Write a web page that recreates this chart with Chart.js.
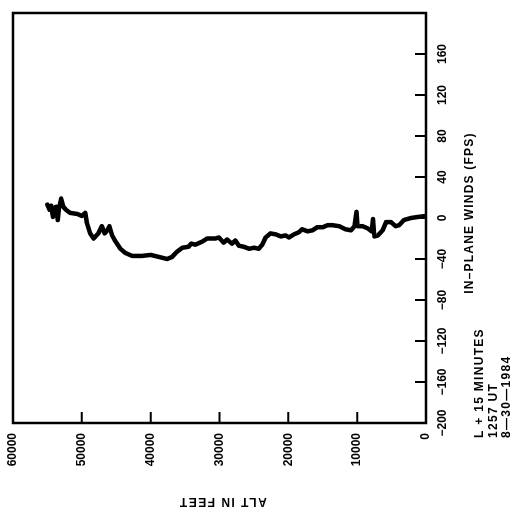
<!DOCTYPE html>
<html>
<head>
<meta charset="utf-8">
<script src="https://cdn.jsdelivr.net/npm/chart.js@4.4.0/dist/chart.umd.min.js"></script>
<style>
  html, body { margin: 0; padding: 0; background: #fff; overflow: hidden; }
  /* the plot is drawn upright (winds across, altitude up) and the whole canvas is turned a quarter left */
  #wrap { position: absolute; left: 0; top: 0; width: 520px; height: 522px;
          transform-origin: 0 0; transform: translateY(520px) rotate(-90deg); }
</style>
</head>
<body>
<div id="wrap"><canvas id="windChart" width="520" height="522"></canvas></div>
<script>
  var altitudes = [55000, 54700, 54450, 54200, 54000, 53700, 53500, 53300, 53000, 52700,
                   52300, 51700, 50700, 50000, 49500, 49300, 48800, 48300, 47600, 47100,
                   46700, 46400, 46000, 45600, 45100, 44400, 43700, 42700, 41800, 41300,
                   40000, 38800, 37600, 36900, 36200, 35400, 34500, 34100, 33500, 32500,
                   31800, 30600, 30100, 29400, 28900, 28200, 27700, 27200, 26500, 25700,
                   25000, 24300, 23800, 23300, 22600, 21800, 21100, 20400, 19900, 19200,
                   18500, 18000, 17200, 16500, 15800, 15000, 14300, 13600, 12600, 11700,
                   10900, 10400, 10100, 9950, 9200, 8500, 7900, 7700, 7500, 7000,
                   6300, 5800, 5100, 4400, 3900, 3200, 2200, 1200, 0];
  var winds = [13, 8, 12, 1, 10, 11, -2, 10, 19, 11,
               8, 5, 4, 2, 5, -4, -15, -20, -15, -8,
               -15, -13, -8, -17, -23, -30, -34, -37, -37, -37,
               -36, -38, -40, -38, -33, -29, -28, -25, -26, -23,
               -20, -20, -19, -24, -21, -25, -22, -27, -28, -30,
               -29, -30, -26, -19, -15, -16, -18, -17, -19, -16,
               -14, -11, -13, -12, -9, -9, -7, -7, -8, -11,
               -12, -8, 6, -8, -8, -10, -13, -1, -18, -17,
               -12, -4, -4, -8, -7, -2, 0, 1, 2];
  var windTicks = [-200, -160, -120, -80, -40, 0, 40, 80, 120, 160];
  var altTicks = [0, 10000, 20000, 30000, 40000, 50000, 60000];
  var windTitle = 'IN\u2013PLANE WINDS (FPS)';
  var altTitle = 'ALT IN FEET';
  var noteLines = ['L + 15 MINUTES', '1257 UT', '8\u201430\u20141984'];

  var FONT = '"Liberation Sans", Arial, sans-serif';

  function noScalePadding(s) {
    s.paddingTop = 0; s.paddingBottom = 0; s.paddingLeft = 0; s.paddingRight = 0;
  }

  var framePlugin = {
    id: 'frame',
    afterDraw: function(chart) {
      var ctx = chart.ctx, a = chart.chartArea;
      var xs = chart.scales.x, ys = chart.scales.y;
      ctx.save();
      ctx.strokeStyle = '#000';
      ctx.lineWidth = 2.5;
      ctx.strokeRect(a.left, a.top, a.right - a.left, a.bottom - a.top);
      // inward tick marks
      ctx.lineWidth = 2;
      ctx.beginPath();
      windTicks.forEach(function(v) {
        if (v <= xs.min || v >= xs.max) return;
        var px = xs.getPixelForValue(v);
        ctx.moveTo(px, a.bottom);
        ctx.lineTo(px, a.bottom - 11);
      });
      altTicks.forEach(function(v) {
        if (v <= ys.min || v >= ys.max) return;
        var py = ys.getPixelForValue(v);
        ctx.moveTo(a.left, py);
        ctx.lineTo(a.left + 11, py);
      });
      ctx.stroke();

      ctx.fillStyle = '#000';
      ctx.font = 'bold 12px ' + FONT;
      ctx.textBaseline = 'middle';
      ctx.letterSpacing = '1.2px';
      ctx.textAlign = 'center';
      ctx.fillText(windTitle, (a.left + a.right) / 2 + 5, a.bottom + 44);

      ctx.save();
      ctx.letterSpacing = '1.5px';
      ctx.translate(19, (a.top + a.bottom) / 2 + 3);
      ctx.rotate(-Math.PI / 2);
      ctx.fillText(altTitle, 0, 0);
      ctx.restore();

      ctx.textAlign = 'left';
      ctx.letterSpacing = '1.3px';
      noteLines.forEach(function(t, i) {
        ctx.fillText(t, 82, a.bottom + 54 + i * 13.5);
      });
      ctx.restore();
    }
  };

  var ctx = document.getElementById('windChart').getContext('2d');
  var windChart = new Chart(ctx, {
    type: 'line',
    data: {
      datasets: [{
        label: 'In-plane winds',
        data: winds.map(function(w, i) { return {x: w, y: altitudes[i]}; }),
        borderColor: '#000',
        borderWidth: 4.5,
        borderJoinStyle: 'round',
        borderCapStyle: 'round',
        pointRadius: 0,
        tension: 0,
        fill: false
      }]
    },
    options: {
      responsive: false,
      animation: false,
      layout: { padding: { left: 0, top: 13, right: 13, bottom: 43 } },
      plugins: { legend: { display: false }, tooltip: { enabled: false } },
      scales: {
        x: {
          type: 'linear',
          min: -200,
          max: 200,
          afterBuildTicks: function(s) { s.ticks = windTicks.map(function(v) { return {value: v}; }); },
          afterFit: function(s) { s.height = 53; noScalePadding(s); },
          ticks: {
            color: '#000',
            font: { family: FONT, size: 12, weight: 'bold' },
            padding: 9,
            maxRotation: 0,
            autoSkip: false,
            callback: function(v) { return v < 0 ? '\u2212' + (-v) : String(v); }
          },
          grid: { display: false, drawTicks: false },
          border: { display: false }
        },
        y: {
          type: 'linear',
          min: 0,
          max: 60000,
          afterBuildTicks: function(s) { s.ticks = altTicks.map(function(v) { return {value: v}; }); },
          afterFit: function(s) { s.width = 97; noScalePadding(s); },
          ticks: {
            color: '#000',
            font: { family: FONT, size: 12, weight: 'bold' },
            padding: 10,
            autoSkip: false,
            callback: function(v) { return String(v); }
          },
          grid: { display: false, drawTicks: false },
          border: { display: false }
        }
      }
    },
    plugins: [framePlugin]
  });
</script>
</body>
</html>
